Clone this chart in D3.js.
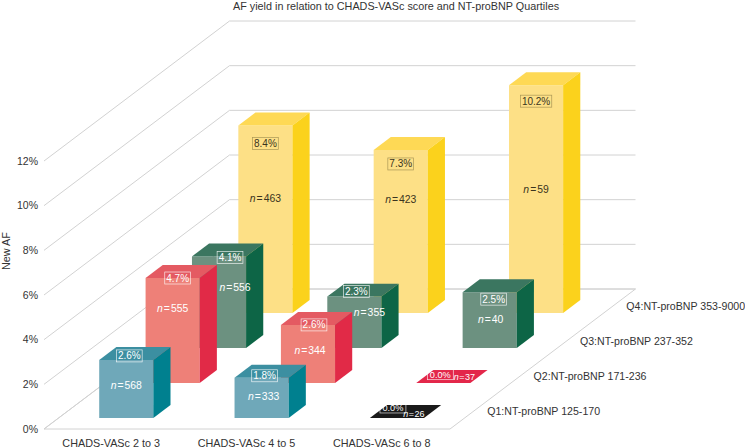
<!DOCTYPE html>
<html>
<head>
<meta charset="utf-8">
<script src="https://cdn.jsdelivr.net/npm/d3@7"></script>
<style>
html, body { margin: 0; padding: 0; background: #fff; }
svg { display: block; }
text { font-family: "Liberation Sans", sans-serif; fill: #333; }
</style>
</head>
<body>
<svg id="chart" width="745" height="448"></svg>
<script>
const chartTitle = "AF yield in relation to CHADS-VASc score and NT-proBNP Quartiles";
const categories = ["CHADS-VASc 2 to 3", "CHADS-VASc 4 to 5", "CHADS-VASc 6 to 8"];
const quartiles = ["Q1:NT-proBNP 125-170", "Q2:NT-proBNP 171-236", "Q3:NT-proBNP 237-352", "Q4:NT-proBNP 353-9000"];
const yTicks = [0, 2, 4, 6, 8, 10, 12];

const q1Values = [2.6, 1.8, 0.0];
const q2Values = [4.7, 2.6, 0.0];
const q3Values = [4.1, 2.3, 2.5];
const q4Values = [8.4, 7.3, 10.2];
const q1Counts = [568, 333, 26];
const q2Counts = [555, 344, 37];
const q3Counts = [556, 355, 40];
const q4Counts = [463, 423, 59];

const allValues = [q1Values, q2Values, q3Values, q4Values];
const allCounts = [q1Counts, q2Counts, q3Counts, q4Counts];

// front, top, side
const palette = [
    ["#6fa8b9", "#3c8fa1", "#00808f"],
    ["#ee8078", "#e45a62", "#e12a47"],
    ["#6c9180", "#3b7660", "#0d6546"],
    ["#fde086", "#fed955", "#fbd21c"]
];
const flatColors = ["#1a1a1a", "#e3274a"];

// floor corners in the picture
const x0 = 44, floorW = 406, skewX = 185.5, floorD = 140, y0 = 429, wallH = 268;

let x = d3.scaleBand().domain(categories).range([0, floorW]).paddingInner(0.6).paddingOuter(0.3);
let z = d3.scaleBand().domain(quartiles).range([0, floorD]).paddingInner(0.63).paddingOuter(0.315);
let y = d3.scaleLinear().domain([0, 12]).range([0, wallH]);

// floor x, depth, height -> screen
function px(a, d) { return x0 + a + d * skewX / floorD; }
function py(d, v) { return y0 - d - y(v); }
function pts(list) { return list.map(p => px(p[0], p[1]) + "," + py(p[1], p[2])).join(" "); }

let svg = d3.select("#chart");

svg.append("text").attr("x", 233).attr("y", 9.8).attr("font-size", 10.8).text(chartTitle);

// walls
let grid = svg.append("g").attr("fill", "none").attr("stroke", "#d2d2d2").attr("stroke-width", 1);
yTicks.forEach(t => {
    grid.append("polyline").attr("points", pts([[0, 0, t], [0, floorD, t], [floorW, floorD, t]]));
    svg.append("text").attr("x", 38).attr("y", py(0, t) + 3.8)
        .attr("text-anchor", "end").attr("font-size", 10.5).text(t + "%");
});
grid.append("polygon").attr("points", pts([[0, 0, 0], [floorW, 0, 0], [floorW, floorD, 0], [0, floorD, 0]]));

svg.append("text").attr("transform", "translate(10,270) rotate(-90)")
    .attr("font-size", 10.8).text("New AF");

categories.forEach(c => {
    svg.append("text").attr("x", px(x(c) + x.bandwidth() / 2, 0) - 0.5).attr("y", y0 + 18)
        .attr("text-anchor", "middle").attr("font-size", 10.8).text(c);
});
quartiles.forEach(q => {
    svg.append("text").attr("x", px(floorW, z(q) + z.bandwidth() / 2) + 14).attr("y", py(z(q) + z.bandwidth() / 2, 0) + 3.5)
        .attr("font-size", 10.6).text(q);
});

// hand placed labels, offsets from the centre of the front face top edge [dx, dy]
const boxOffsets = [
    [[3, -4], [3, -2], [-4, -10]],
    [[5, 0], [6, 0], [-3, -8.3]],
    [[11, 1], [2, -5], [4, 7]],
    [[0, 18], [0, 14], [0, 16]]
];
const countOffsets = [
    [[0, 25], [2, 19], [17, -4.4]],
    [[0, 30], [2, 25], [21, -6.4]],
    [[16, 31], [15, 16], [1, 27]],
    [[0, 73], [0, 49], [0, 104]]
];

// back rows first so the front bars cover them
d3.range(quartiles.length - 1, -1, -1).forEach(qi => {
    let q = quartiles[qi];
    let d1 = z(q), d2 = d1 + z.bandwidth();
    categories.forEach((c, ci) => {
        let a1 = x(c), a2 = a1 + x.bandwidth();
        let v = allValues[qi][ci];
        let g = svg.append("g");
        let cols = palette[qi];
        if (v === 0) {
            g.append("polygon").attr("fill", flatColors[qi])
                .attr("points", pts([[a1, d1, 0], [a2, d1, 0], [a2, d2, 0], [a1, d2, 0]]));
        } else {
            g.append("polygon").attr("fill", cols[0])
                .attr("points", pts([[a1, d1, 0], [a2, d1, 0], [a2, d1, v], [a1, d1, v]]));
            g.append("polygon").attr("fill", cols[1])
                .attr("points", pts([[a1, d1, v], [a2, d1, v], [a2, d2, v], [a1, d2, v]]));
            g.append("polygon").attr("fill", cols[2])
                .attr("points", pts([[a2, d1, 0], [a2, d2, 0], [a2, d2, v], [a2, d1, v]]));
        }

        let dark = qi === 3;
        let flat = v === 0;
        let ink = dark ? "#3a3420" : "#fff";
        let cx = px((a1 + a2) / 2, d1), topY = py(d1, v);
        let bo = boxOffsets[qi][ci], co = countOffsets[qi][ci];
        let label = v.toFixed(1) + "%";
        let boxH = flat ? 10 : 12;
        let lt = g.append("text").attr("x", cx + bo[0]).attr("y", topY + bo[1] + 3.5)
            .attr("text-anchor", "middle").attr("font-size", flat ? 9.2 : 10).style("fill", ink).text(label);
        let w = lt.node().getComputedTextLength() + (flat ? 5 : 3);
        g.insert("rect", "text").attr("x", cx + bo[0] - w / 2).attr("y", topY + bo[1] - boxH / 2)
            .attr("width", w).attr("height", boxH).attr("fill", "none")
            .attr("stroke", dark ? "#9a8a4c" : "#fff").attr("stroke-opacity", 0.85).attr("stroke-width", 0.7);

        let nt = g.append("text").attr("x", cx + co[0]).attr("y", topY + co[1] + 3.6)
            .attr("text-anchor", "middle").attr("font-size", flat ? 9 : 10.4).style("fill", ink);
        nt.append("tspan").attr("font-style", "italic").text("n");
        nt.append("tspan").attr("dx", flat ? 0.5 : 1).text("=");
        nt.append("tspan").attr("dx", flat ? 0.5 : 1).text(allCounts[qi][ci]);
    });
});
</script>
</body>
</html>
